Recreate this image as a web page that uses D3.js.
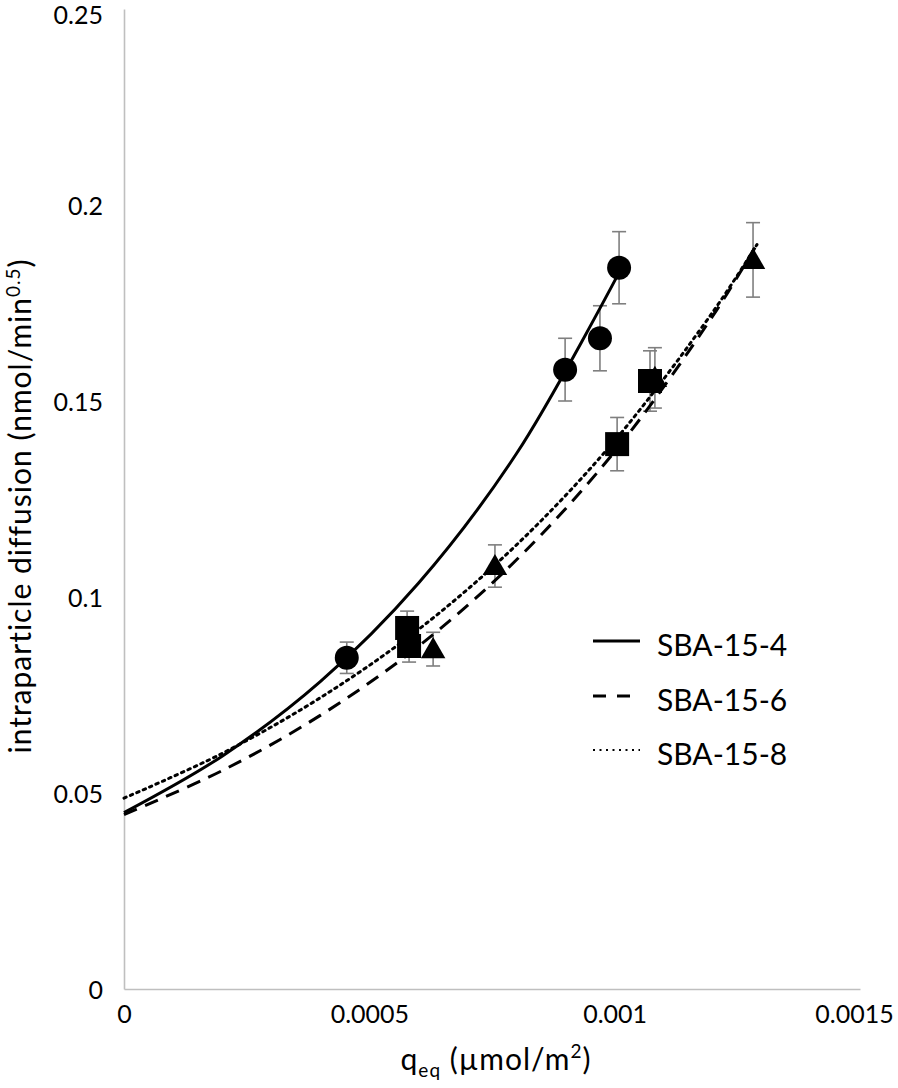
<!DOCTYPE html>
<html>
<head>
<meta charset="utf-8">
<script src="https://d3js.org/d3.v7.min.js"></script>
<style>
  body { margin: 0; background: #fff; }
  text { font-family: Lato, "Open Sans", sans-serif; fill: #000; }
</style>
</head>
<body>
<div id="vis"></div>
<script>
  // measured points (x = q_eq, y = intraparticle diffusion, err = +/- bar)
  const x4 = [0.000454, 0.000899, 0.00097, 0.001009]
  const y4 = [0.0845, 0.158, 0.166, 0.184]
  const err4 = [0.004, 0.008, 0.0083, 0.0092]

  const x6 = [0.000577, 0.000581, 0.001005, 0.001072]
  const y6 = [0.0921, 0.0875, 0.139, 0.1551]
  const err6 = [0.0043, 0.0041, 0.0068, 0.0077]

  const x8 = [0.00063, 0.000756, 0.001082, 0.001282]
  const y8 = [0.0867, 0.1079, 0.1559, 0.186]
  const err8 = [0.0043, 0.0054, 0.0077, 0.0095]

  // trend lines
  const fitX4 = [0, 0.0002, 0.0004, 0.0006, 0.0008, 0.00101]
  const fitY4 = [0.045, 0.0594, 0.0784, 0.1035, 0.1366, 0.183]
  const fitX6 = [0, 0.0002, 0.0004, 0.0006, 0.0008, 0.001, 0.0012, 0.00129]
  const fitY6 = [0.0445, 0.0557, 0.0698, 0.0874, 0.1095, 0.1371, 0.1717, 0.190]
  const fitX8 = [0, 0.0002, 0.0004, 0.0006, 0.0008, 0.001, 0.0012, 0.00129]
  const fitY8 = [0.0487, 0.0601, 0.0743, 0.0917, 0.1133, 0.1399, 0.1727, 0.1899]

  const xTicks = [0, 0.0005, 0.001, 0.0015]
  const yTicks = [0, 0.05, 0.1, 0.15, 0.2, 0.25]
  const seriesNames = ['SBA-15-4', 'SBA-15-6', 'SBA-15-8']

  var width = 898, height = 1088
  var margin = {left: 124, top: 9, right: 38, bottom: 99}

  var svg = d3.select('#vis')
    .append('svg')
    .attr('width', width)
    .attr('height', height)

  var x = d3.scaleLinear().domain([0, 0.0015]).range([margin.left, width - margin.right])
  var y = d3.scaleLinear().domain([0, 0.25]).range([height - margin.bottom, margin.top])

  // axes
  var xAxis = svg.append('g')
    .attr('transform', 'translate(0,' + y(0) + ')')
    .call(d3.axisBottom(x).tickValues(xTicks).tickSize(0).tickPadding(16)
      .tickFormat(function(d) { return d === 0 ? '0' : String(+d.toFixed(4)) }))
  var yAxis = svg.append('g')
    .attr('transform', 'translate(' + x(0) + ',0)')
    .call(d3.axisLeft(y).tickValues(yTicks).tickSize(0).tickPadding(21)
      .tickFormat(function(d) { return d === 0 ? '0' : String(+d.toFixed(2)) }))

  svg.selectAll('.domain').attr('stroke', '#bfbfbf').attr('stroke-width', 1.6)
  svg.selectAll('.tick text').style('font-size', '25px').attr('fill', '#000')
  xAxis.selectAll('.tick text').attr('dy', '0.71em')
  yAxis.selectAll('.tick text').attr('dy', '0.36em')
  yAxis.selectAll('.tick text').filter(function(d) { return d === 0.25 }).attr('dy', '0.58em')
  xAxis.selectAll('.tick text').filter(function(d) { return d === 0.0015 }).attr('dx', -6)

  // axis titles
  var yTitle = svg.append('text')
    .attr('transform', 'translate(31,' + 506 + ') rotate(-90)')
    .style('text-anchor', 'middle')
    .style('font-size', '30px')
    .style('letter-spacing', '1px')
  yTitle.append('tspan').text('intraparticle diffusion (nmol/min')
  yTitle.append('tspan').text('0.5').attr('dy', -11).style('font-size', '19px')
  yTitle.append('tspan').text(')').attr('dy', 11)

  var xTitle = svg.append('text')
    .attr('x', 496)
    .attr('y', 1070)
    .style('text-anchor', 'middle')
    .style('font-size', '30px')
    .style('letter-spacing', '1px')
  xTitle.append('tspan').text('q')
  xTitle.append('tspan').text('eq').attr('dy', 7).style('font-size', '19px')
  xTitle.append('tspan').text(' (µmol/m').attr('dy', -7)
  xTitle.append('tspan').text('2').attr('dy', -12).style('font-size', '19px')
  xTitle.append('tspan').text(')').attr('dy', 12)

  // trend lines
  var line = d3.line()
    .x(function(d) { return x(d[0]) })
    .y(function(d) { return y(d[1]) })
    .curve(d3.curveCatmullRom)

  var fits = [
    {pts: d3.zip(fitX4, fitY4), dash: null},
    {pts: d3.zip(fitX6, fitY6), dash: '14,9'},
    {pts: d3.zip(fitX8, fitY8), dash: '2.5,4.5'}
  ]

  // error bars
  var points = []
  ;[[x4, y4, err4, 'circle'], [x6, y6, err6, 'square'], [x8, y8, err8, 'triangle']].forEach(function(s) {
    s[0].forEach(function(v, i) {
      points.push({x: v, y: s[1][i], e: s[2][i], shape: s[3]})
    })
  })

  var bars = svg.append('g').attr('stroke', '#7f7f7f').attr('stroke-width', 1.6)
  points.forEach(function(p) {
    var cx = x(p.x)
    bars.append('line').attr('x1', cx).attr('x2', cx).attr('y1', y(p.y - p.e)).attr('y2', y(p.y + p.e))
    bars.append('line').attr('x1', cx - 7).attr('x2', cx + 7).attr('y1', y(p.y - p.e)).attr('y2', y(p.y - p.e))
    bars.append('line').attr('x1', cx - 7).attr('x2', cx + 7).attr('y1', y(p.y + p.e)).attr('y2', y(p.y + p.e))
  })

  svg.selectAll('path.fit')
    .data(fits)
    .enter()
    .append('path')
    .attr('class', 'fit')
    .attr('d', function(d) { return line(d.pts) })
    .attr('fill', 'none')
    .attr('stroke', '#000')
    .attr('stroke-width', 3)
    .attr('stroke-dasharray', function(d) { return d.dash })
    .attr('stroke-linecap', function(d) { return d.dash === '2.5,4.5' ? 'round' : 'butt' })

  // markers
  var symbols = {
    circle: d3.symbol().type(d3.symbolCircle).size(Math.PI * 12 * 12),
    square: d3.symbol().type(d3.symbolSquare).size(24 * 24),
    triangle: d3.symbol().type(d3.symbolTriangle).size(260)
  }
  svg.selectAll('path.mark')
    .data(points)
    .enter()
    .append('path')
    .attr('class', 'mark')
    .attr('d', function(d) { return symbols[d.shape]() })
    .attr('transform', function(d) {
      var dy = d.shape === 'triangle' ? 2 : 0
      return 'translate(' + x(d.x) + ',' + (y(d.y) + dy) + ')'
    })
    .attr('fill', '#000')

  // legend
  var legend = svg.append('g')
  var legendY = [641, 696, 750]
  seriesNames.forEach(function(name, i) {
    legend.append('line')
      .attr('x1', 593).attr('x2', 640)
      .attr('y1', legendY[i]).attr('y2', legendY[i])
      .attr('stroke', '#000')
      .attr('stroke-width', i === 2 ? 2 : 3)
      .attr('stroke-dasharray', [null, '13,11', '2,4.5'][i])
    legend.append('text')
      .attr('x', 657)
      .attr('y', legendY[i] + 4)
      .attr('dy', '0.35em')
      .style('font-size', '30px')
      .text(name)
  })
</script>
</body>
</html>
